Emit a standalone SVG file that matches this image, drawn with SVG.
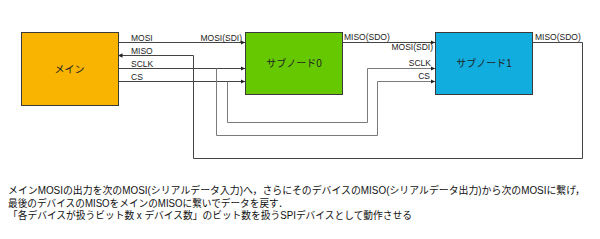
<svg xmlns="http://www.w3.org/2000/svg" width="600" height="239" viewBox="0 0 600 239">
<style>
.box{stroke:#3a3a3a;stroke-width:1}
.lbl{font-family:"Liberation Sans","Noto Sans CJK JP",sans-serif;font-size:8.5px;fill:#222}
.nl{font-family:"Liberation Sans","Noto Sans CJK JP",sans-serif;font-size:10px;fill:#222;text-anchor:middle}
.cap{font-family:"Liberation Sans","Noto Sans CJK JP",sans-serif;font-size:10px;fill:#111}
.w{fill:none;stroke:#444;stroke-width:1}
.g{fill:none;stroke:#7a7a7a;stroke-width:1}
</style>
<defs>
<marker id="ah" viewBox="0 0 6 6" refX="6" refY="3" markerWidth="4.5" markerHeight="4.5" orient="auto" markerUnits="userSpaceOnUse">
<path d="M0,0 L6,3 L0,6 z" fill="#222"/>
</marker>
</defs>
<rect width="600" height="239" fill="#fff"/>
<g id="connectors">
<path class="w" d="M118 42.5 H245" marker-end="url(#ah)"/>
<path class="w" d="M532 42.5 H582.5 V158.5 H193.5 V55.5 H118" marker-end="url(#ah)"/>
<path class="w" d="M118 68.5 H245" marker-end="url(#ah)"/>
<path class="w" d="M118 81.5 H245" marker-end="url(#ah)"/>
<path class="g" d="M216.5 68.5 V135.5 H377.5 V81.5 H435" marker-end="url(#ah)"/>
<path class="g" d="M227.5 81.5 V122.5 H367.5 V68.5 H435" marker-end="url(#ah)"/>
<path class="w" d="M342 42.5 H435" marker-end="url(#ah)"/>
<text class="lbl" x="131" y="40.5">MOSI</text>
<text class="lbl" x="131" y="53.5">MISO</text>
<text class="lbl" x="131" y="66.5">SCLK</text>
<text class="lbl" x="131" y="79.5">CS</text>
<text class="lbl" x="242" y="40.5" text-anchor="end">MOSI(SDI)</text>
<text class="lbl" x="344" y="40">MISO(SDO)</text>
<text class="lbl" x="433" y="49.5" text-anchor="end">MOSI(SDI)</text>
<text class="lbl" x="431" y="65.5" text-anchor="end">SCLK</text>
<text class="lbl" x="430" y="78.5" text-anchor="end">CS</text>
<text class="lbl" x="535" y="40">MISO(SDO)</text>
</g>
<g id="main">
<rect class="box" x="21.5" y="32.5" width="97" height="73" fill="#F8B400"/>
<text class="nl" x="69.5" y="72.5">メイン</text>
</g>
<g id="sub0">
<rect class="box" x="245.5" y="32.5" width="97" height="62" fill="#66C800"/>
<text class="nl" x="294" y="66.5">サブノード0</text>
</g>
<g id="sub1">
<rect class="box" x="435.5" y="32.5" width="97" height="62" fill="#10ADDE"/>
<text class="nl" x="484" y="66.5">サブノード1</text>
</g>
<g id="caption">
<text class="cap" x="8" y="194" textLength="577" lengthAdjust="spacingAndGlyphs">メインMOSIの出力を次のMOSI(シリアルデータ入力)へ，さらにそのデバイスのMISO(シリアルデータ出力)から次のMOSIに繋げ，</text>
<text class="cap" x="8" y="206.5" textLength="280" lengthAdjust="spacingAndGlyphs">最後のデバイスのMISOをメインのMISOに繋いでデータを戻す．</text>
<text class="cap" x="8" y="219" textLength="404" lengthAdjust="spacingAndGlyphs">「各デバイスが扱うビット数 x デバイス数」のビット数を扱うSPIデバイスとして動作させる</text>
</g>
</svg>
